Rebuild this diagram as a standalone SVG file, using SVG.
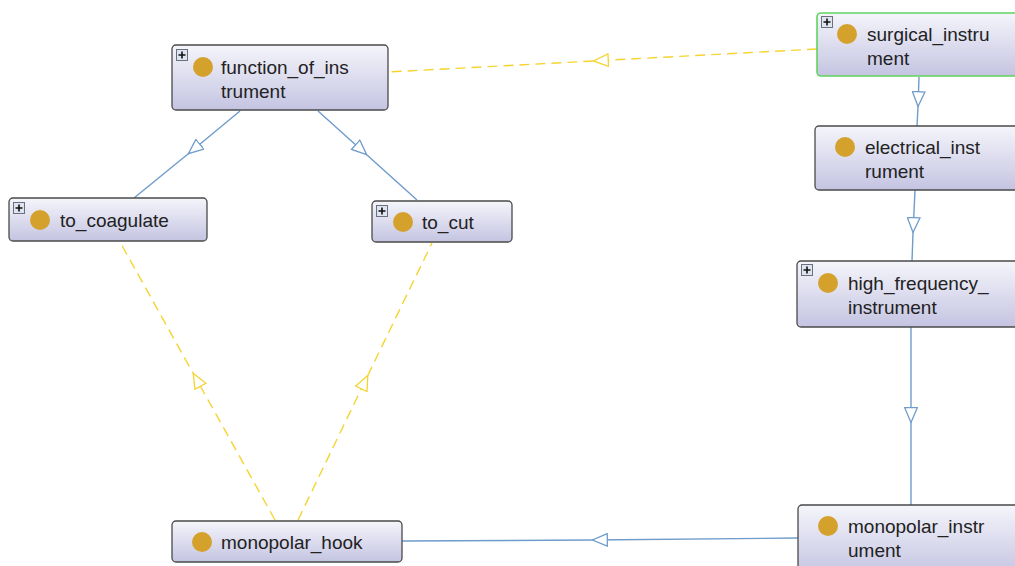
<svg xmlns="http://www.w3.org/2000/svg" width="1015" height="566" viewBox="0 0 1015 566">
<style>
.node{fill:url(#g);stroke:#4a4a4a;stroke-width:1.3}
.sel{stroke:#5fd35f;stroke-width:1.6}
.dot{fill:#d4a22c}
.t{font-family:"Liberation Sans",Arial,sans-serif;font-size:19px;fill:#222}
.pb{fill:#dfe5f0;stroke:#6a7080;stroke-width:1}
.pl{stroke:#111;stroke-width:1.6}
.sub{fill:none;stroke:#6f9ccb;stroke-width:1.4;marker-mid:url(#ab)}
.inst{fill:none;stroke:#f5d431;stroke-width:1.4;stroke-dasharray:10 6;marker-mid:url(#ay)}
</style>
<defs>
<linearGradient id="g" x1="0" y1="0" x2="0" y2="1">
<stop offset="0" stop-color="#f5f5fb"/>
<stop offset="1" stop-color="#c4c4e2"/>
</linearGradient>
<marker id="ab" viewBox="0 0 16 14" refX="16" refY="7" markerWidth="16" markerHeight="14" markerUnits="userSpaceOnUse" orient="auto">
<path d="M0.7,0.7 L15.5,7 L0.7,13.3 Z" fill="#fff" stroke="#6f9ccb" stroke-width="1.3"/>
</marker>
<marker id="ay" viewBox="0 0 16 14" refX="16" refY="7" markerWidth="16" markerHeight="14" markerUnits="userSpaceOnUse" orient="auto">
<path d="M0.7,0.7 L15.5,7 L0.7,13.3 Z" fill="#fff" stroke="#f5d431" stroke-width="1.3"/>
</marker>
<g id="plus">
<rect class="pb" x="0.5" y="0.5" width="11" height="11"/>
<path class="pl" d="M2.5,6 H9.5 M6,2.5 V9.5"/>
</g>
</defs>
<rect width="1015" height="566" fill="#fff"/>
<g id="connectors">
<path class="inst" d="M817,49 L593,61 L388,72"/>
<path class="sub" d="M240,111 L188,154 L134,198"/>
<path class="sub" d="M318,111 L367,155 L417,200"/>
<path class="inst" d="M275,520 L193,373 L120,242"/>
<path class="inst" d="M298,520 L368,375 L432,243"/>
<path class="sub" d="M919,77 L918,107 L917,126"/>
<path class="sub" d="M915,190 L913,233 L912,261"/>
<path class="sub" d="M911,327 L911,423 L911,505"/>
<path class="sub" d="M798,538 L592,540 L402,541"/>
</g>
<g id="function_of_instrument">
<rect class="node" x="172" y="45" width="216" height="65" rx="4"/>
<use href="#plus" x="176" y="49"/>
<circle class="dot" cx="203" cy="67" r="10"/>
<text class="t" x="221" y="74">function_of_ins</text>
<text class="t" x="221" y="98">trument</text>
</g>
<g id="surgical_instrument">
<rect class="node sel" x="817" y="13" width="205" height="63" rx="4"/>
<use href="#plus" x="821" y="16"/>
<circle class="dot" cx="847" cy="34" r="10"/>
<text class="t" x="867" y="41">surgical_instru</text>
<text class="t" x="867" y="65">ment</text>
</g>
<g id="electrical_instrument">
<rect class="node" x="815" y="126" width="207" height="64" rx="4"/>
<circle class="dot" cx="845" cy="147" r="10"/>
<text class="t" x="865" y="154">electrical_inst</text>
<text class="t" x="865" y="178">rument</text>
</g>
<g id="to_coagulate">
<rect class="node" x="9" y="198" width="198" height="43" rx="4"/>
<use href="#plus" x="13" y="202"/>
<circle class="dot" cx="40" cy="220" r="10"/>
<text class="t" x="60" y="227">to_coagulate</text>
</g>
<g id="to_cut">
<rect class="node" x="372" y="201" width="140" height="41" rx="4"/>
<use href="#plus" x="376" y="205"/>
<circle class="dot" cx="403" cy="222" r="10"/>
<text class="t" x="422" y="229">to_cut</text>
</g>
<g id="high_frequency_instrument">
<rect class="node" x="797" y="261" width="225" height="66" rx="4"/>
<use href="#plus" x="801" y="264"/>
<circle class="dot" cx="828" cy="283" r="10"/>
<text class="t" x="848" y="290">high_frequency_</text>
<text class="t" x="848" y="314">instrument</text>
</g>
<g id="monopolar_hook">
<rect class="node" x="172" y="521" width="230" height="41" rx="4"/>
<circle class="dot" cx="202" cy="542" r="10"/>
<text class="t" x="221" y="549">monopolar_hook</text>
</g>
<g id="monopolar_instrument">
<rect class="node" x="798" y="505" width="224" height="70" rx="4"/>
<circle class="dot" cx="828" cy="526" r="10"/>
<text class="t" x="848" y="533">monopolar_instr</text>
<text class="t" x="848" y="557">ument</text>
</g>
</svg>
